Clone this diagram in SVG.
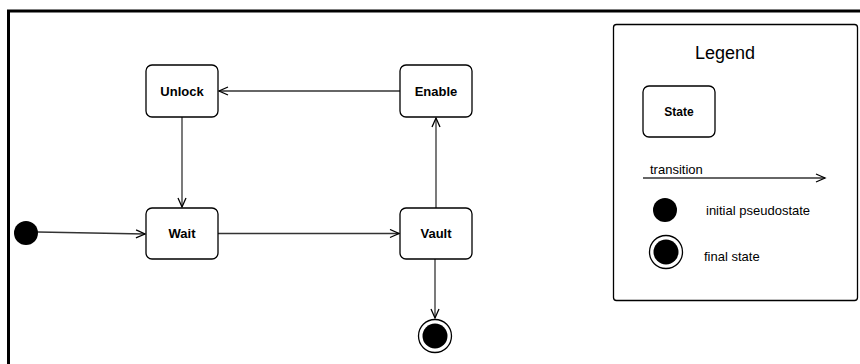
<svg xmlns="http://www.w3.org/2000/svg" width="860" height="364" viewBox="0 0 860 364">
<defs>
<style>
.state{fill:#fff;stroke:#000;stroke-width:1.3}
.lbl{font-family:"Liberation Sans",Arial,sans-serif;font-size:13px;font-weight:bold;text-anchor:middle;fill:#000}
.txt{font-family:"Liberation Sans",Arial,sans-serif;font-size:13px;fill:#000}
.edge{fill:none;stroke:#333;stroke-width:1.3}
</style>
<marker id="arr" markerWidth="12" markerHeight="10" refX="10" refY="5" orient="auto" markerUnits="userSpaceOnUse">
<path d="M1,1 L10,5 L1,9" fill="none" stroke="#000" stroke-width="1.3"/>
</marker>
</defs>
<rect x="0" y="0" width="860" height="364" fill="#fff"/>
<path d="M8.5,366 L8.5,11 L862,11" fill="none" stroke="#000" stroke-width="3"/>
<g id="connectors">
<path class="edge" d="M38,232 L145,234" marker-end="url(#arr)"/>
<path class="edge" d="M218,233.5 L399,233.5" marker-end="url(#arr)"/>
<path class="edge" d="M436,208 L436,118" marker-end="url(#arr)"/>
<path class="edge" d="M400,91 L219,91" marker-end="url(#arr)"/>
<path class="edge" d="M182,117 L182,207" marker-end="url(#arr)"/>
<path class="edge" d="M435,259 L435,318" marker-end="url(#arr)"/>
</g>
<g id="initial"><circle cx="26" cy="233" r="12" fill="#000"/></g>
<g id="unlock"><rect class="state" x="146" y="65" width="72" height="52" rx="6"/><text class="lbl" x="182" y="96">Unlock</text></g>
<g id="enable"><rect class="state" x="400" y="65" width="72" height="52" rx="6"/><text class="lbl" x="436" y="96">Enable</text></g>
<g id="wait"><rect class="state" x="146" y="208" width="72" height="51" rx="6"/><text class="lbl" x="182" y="238">Wait</text></g>
<g id="vault"><rect class="state" x="400" y="208" width="72" height="51" rx="6"/><text class="lbl" x="436" y="238">Vault</text></g>
<g id="final"><circle cx="435" cy="336" r="16.5" fill="#fff" stroke="#000" stroke-width="1.3"/><circle cx="435" cy="336" r="12.5" fill="#000"/></g>
<g id="legend">
<rect x="613.5" y="24.5" width="244" height="276" rx="3" fill="#fff" stroke="#000" stroke-width="1.3"/>
<text x="725" y="59" font-family="Liberation Sans,Arial,sans-serif" font-size="18" text-anchor="middle">Legend</text>
<rect class="state" x="643" y="86" width="72" height="51" rx="6"/>
<text class="lbl" x="679" y="116" style="font-size:12px">State</text>
<text class="txt" x="650" y="174">transition</text>
<path class="edge" d="M643,178 L825,178" marker-end="url(#arr)"/>
<circle cx="665" cy="210" r="12" fill="#000"/>
<text class="txt" x="706" y="215">initial pseudostate</text>
<circle cx="666" cy="252" r="16.5" fill="#fff" stroke="#000" stroke-width="1.3"/>
<circle cx="666" cy="252" r="12.5" fill="#000"/>
<text class="txt" x="704" y="261">final state</text>
</g>
</svg>
